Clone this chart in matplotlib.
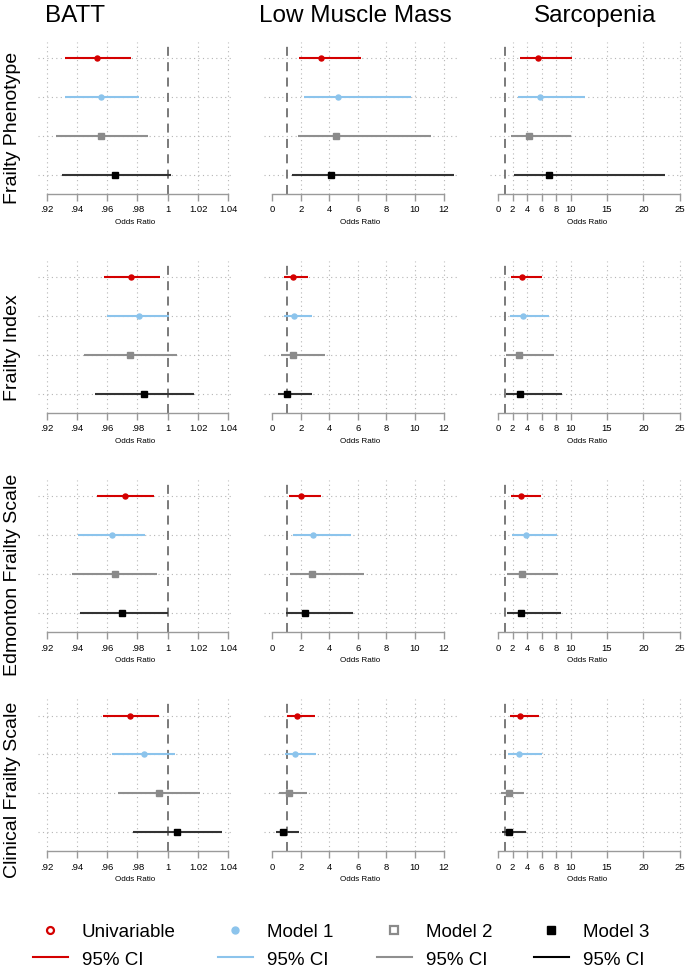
import matplotlib
matplotlib.use("Agg")
import matplotlib.pyplot as plt
from matplotlib.lines import Line2D
import numpy as np

plt.rcParams['font.family'] = ['Liberation Sans', 'DejaVu Sans']

columns = ["BATT", "Low Muscle Mass", "Sarcopenia"]
rows = ["Frailty Phenotype", "Frailty Index", "Edmonton Frailty Scale", "Clinical Frailty Scale"]
models = ["Univariable", "Model 1", "Model 2", "Model 3"]

# Odds ratios [row][model] and CI bounds, per outcome column
batt_or = [[0.953, 0.956, 0.956, 0.965],
           [0.976, 0.981, 0.975, 0.984],
           [0.972, 0.963, 0.965, 0.970],
           [0.975, 0.984, 0.994, 1.006]]
batt_lo = [[0.932, 0.932, 0.926, 0.930],
           [0.958, 0.960, 0.945, 0.952],
           [0.953, 0.941, 0.937, 0.942],
           [0.957, 0.963, 0.967, 0.977]]
batt_hi = [[0.976, 0.981, 0.987, 1.002],
           [0.995, 1.001, 1.006, 1.017],
           [0.991, 0.985, 0.993, 1.000],
           [0.994, 1.005, 1.021, 1.036]]

lmm_or = [[3.4, 4.6, 4.45, 4.14],
          [1.43, 1.52, 1.47, 1.03],
          [1.99, 2.88, 2.79, 2.29],
          [1.73, 1.61, 1.15, 0.73]]
lmm_lo = [[1.87, 2.2, 1.78, 1.38],
          [0.84, 0.84, 0.59, 0.40],
          [1.19, 1.45, 1.22, 0.94],
          [1.03, 0.89, 0.49, 0.24]]
lmm_hi = [[6.2, 9.7, 11.1, 12.75],
          [2.48, 2.79, 3.70, 2.79],
          [3.44, 5.54, 6.46, 5.66],
          [3.02, 3.09, 2.46, 1.85]]

sarc_or = [[5.54, 5.72, 4.21, 7.0],
           [3.25, 3.43, 2.84, 3.06],
           [3.2, 3.89, 3.3, 3.2],
           [3.07, 2.94, 1.51, 1.51]]
sarc_lo = [[3.02, 2.8, 1.83, 2.15],
           [1.74, 1.65, 1.06, 1.1],
           [1.74, 1.92, 1.24, 1.19],
           [1.65, 1.43, 0.47, 0.56]]
sarc_hi = [[10.2, 11.95, 10.0, 23.0],
           [6.09, 7.0, 7.69, 8.83],
           [5.9, 8.06, 8.28, 8.65],
           [5.6, 6.0, 3.63, 3.91]]

batt_ticks = [0.92, 0.94, 0.96, 0.98, 1.0, 1.02, 1.04]
batt_ticklabels = [".92", ".94", ".96", ".98", "1", "1.02", "1.04"]
lmm_ticks = [0, 2, 4, 6, 8, 10, 12]
sarc_ticks = [0, 2, 4, 6, 8, 10, 15, 20, 25]

point_colors = ["#d40000", "#8cc4ec", "#8a8a8a", "#000000"]
line_colors = ["#d40000", "#8cc4ec", "#8f8f8f", "#333333"]
markers = ["o", "o", "s", "s"]

W, H = 685, 970
fig = plt.figure(figsize=(W / 100, H / 100), dpi=100)

col_px = [(38, 232), (264, 457), (490, 684)]
row_px = [(42.7, 195), (261.7, 414), (480.7, 633.3), (700.1, 852.3)]
xlims = [(0.9143, 1.0424), (-0.58, 12.94), (-1.1, 25.6)]
tick_sets = [(batt_ticks, batt_ticklabels),
             (lmm_ticks, [str(t) for t in lmm_ticks]),
             (sarc_ticks, [str(t) for t in sarc_ticks])]
data = [(batt_or, batt_lo, batt_hi), (lmm_or, lmm_lo, lmm_hi), (sarc_or, sarc_lo, sarc_hi)]

ypos = np.arange(1, 5)
grid_kw = dict(color="#b5b5b5", linestyle=(0, (1, 3)), linewidth=0.8, zorder=0)

for r, (top, bot) in enumerate(row_px):
    for c, (left, right) in enumerate(col_px):
        ax = fig.add_axes([left / W, 1 - bot / H, (right - left) / W, (bot - top) / H])
        ax.set_xlim(*xlims[c])
        ax.set_ylim(4.5, 0.57)
        ticks, labels = tick_sets[c]
        for t in ticks:
            if t != 1.0 and t != ticks[0] or (c == 0 and t == ticks[0]):
                ax.axvline(t, **grid_kw)
        for y in ypos:
            ax.axhline(y, **grid_kw)
        ax.axvline(1.0, color="#707070", linestyle=(0, (5, 3.5)), linewidth=1.3, zorder=1)
        orv, lov, hiv = data[c]
        for m in range(4):
            ax.plot([lov[r][m], hiv[r][m]], [ypos[m], ypos[m]], color=line_colors[m],
                    linewidth=1.5, solid_capstyle="butt", zorder=2)
            ax.plot([orv[r][m]], [ypos[m]], marker=markers[m], color=point_colors[m],
                    markersize=3.6 if markers[m] == "o" else 3.8, linestyle="none", zorder=3)
        for s in ["top", "left", "right"]:
            ax.spines[s].set_visible(False)
        ax.spines["bottom"].set_color("#9a9a9a")
        ax.spines["bottom"].set_linewidth(1.0)
        ax.spines["bottom"].set_bounds(ticks[0], ticks[-1])
        ax.set_yticks([])
        ax.set_xticks(ticks)
        ax.set_xticklabels(labels)
        ax.tick_params(axis="x", length=5, width=1.0, color="#9a9a9a", labelsize=6.8, pad=2.5)
        ax.set_xlabel("Odds Ratio", fontsize=5.8, labelpad=3)
        ax.patch.set_alpha(0)

# column titles
title_x = [75, 355, 595]
for c, name in enumerate(columns):
    fig.text(title_x[c] / W, 1 - 16 / H, name, fontsize=17.5, ha="center", va="center")

# row labels
row_label_y = [128, 348, 575, 790]
for r in range(len(rows)):
    fig.text(13 / W, 1 - row_label_y[r] / H, rows[r], fontsize=14, rotation=90,
             ha="center", va="center")

# legend (one block per model)
leg_x = [33, 218, 377, 534]
marker_face = ["white", point_colors[1], "white", point_colors[3]]
for m in range(4):
    h_pt = Line2D([], [], marker=markers[m], color=point_colors[m], markerfacecolor=marker_face[m],
                  markeredgewidth=1.6 if marker_face[m] == "white" else 1.0,
                  markersize=5 if markers[m] == "o" else 5.5, linestyle="none")
    h_ln = Line2D([], [], color=line_colors[m] if m < 3 else "#000000", linewidth=1.5)
    leg = fig.legend([h_pt, h_ln], [models[m], "95% CI"], loc="upper left",
                     bbox_to_anchor=(leg_x[m] / W, 1 - 924 / H), frameon=False,
                     fontsize=13.5, handlelength=1.85, handletextpad=0.75,
                     labelspacing=0.55, borderaxespad=0, borderpad=0)

fig.savefig("out.png", dpi=100)
